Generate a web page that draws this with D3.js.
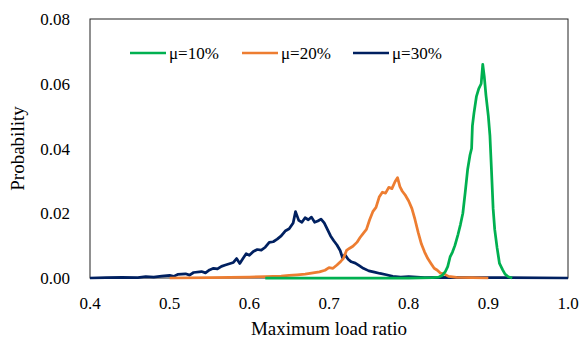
<!DOCTYPE html>
<html>
<head>
<meta charset="utf-8">
<script src="https://cdn.jsdelivr.net/npm/d3@7"></script>
<style>
  body { margin: 0; background: #fff; }
</style>
</head>
<body>
<svg></svg>
<script>
var width = 579, height = 341;
var margin = { left: 90, right: 11, top: 19, bottom: 63 };
var serif = "'Liberation Serif', 'Times New Roman', Times, serif";

// series: [load ratio, probability]
var mu10 = [[0.620,0],[0.700,0],[0.800,0],[0.830,0.0001],[0.838,0.0003],[0.842,0.0008],[0.846,0.0020],
  [0.849,0.0035],[0.852,0.0065],[0.855,0.0080],[0.858,0.0100],[0.862,0.0135],[0.865,0.0165],[0.868,0.0200],
  [0.871,0.0265],[0.874,0.0335],[0.877,0.0380],[0.879,0.0400],[0.880,0.0470],[0.882,0.0510],[0.885,0.0560],
  [0.888,0.0585],[0.891,0.0600],[0.893,0.0660],[0.895,0.0620],[0.897,0.0565],[0.900,0.0500],[0.902,0.0440],
  [0.904,0.0330],[0.906,0.0215],[0.908,0.0150],[0.911,0.0093],[0.914,0.0045],[0.918,0.0025],[0.921,0.0012],
  [0.925,0.0004],[0.930,0]];
var mu20 = [[0.500,0],[0.550,0.0001],[0.600,0.0003],[0.620,0.0004],[0.640,0.0006],[0.650,0.0008],[0.660,0.0010],
  [0.670,0.0012],[0.680,0.0016],[0.688,0.0019],[0.695,0.0024],[0.700,0.0032],[0.705,0.0030],[0.710,0.0040],
  [0.715,0.0052],[0.718,0.0060],[0.722,0.0085],[0.726,0.0092],[0.730,0.0098],[0.735,0.0110],[0.739,0.0125],
  [0.743,0.0138],[0.747,0.0150],[0.751,0.0180],[0.755,0.0205],[0.759,0.0218],[0.763,0.0250],[0.767,0.0265],
  [0.771,0.0262],[0.775,0.0280],[0.779,0.0276],[0.783,0.0298],[0.786,0.0310],[0.789,0.0282],[0.792,0.0268],
  [0.796,0.0255],[0.800,0.0238],[0.804,0.0215],[0.808,0.0180],[0.812,0.0140],[0.816,0.0105],[0.820,0.0080],
  [0.824,0.0060],[0.828,0.0045],[0.832,0.0030],[0.836,0.0024],[0.840,0.0015],[0.845,0.0012],[0.850,0.0005],
  [0.860,0.0002],[0.880,0.0001],[0.900,0]];
var mu30 = [[0.400,0],[0.420,0.0001],[0.440,0.0002],[0.460,0.0001],[0.470,0.0004],[0.480,0.0003],[0.490,0.0006],
  [0.500,0.0008],[0.505,0.0005],[0.510,0.0011],[0.520,0.0013],[0.525,0.0009],[0.530,0.0017],[0.540,0.0020],
  [0.545,0.0016],[0.550,0.0025],[0.555,0.0030],[0.560,0.0028],[0.565,0.0036],[0.570,0.0040],[0.575,0.0044],
  [0.580,0.0048],[0.584,0.0060],[0.588,0.0045],[0.592,0.0060],[0.596,0.0075],[0.600,0.0070],[0.605,0.0082],
  [0.610,0.0088],[0.615,0.0086],[0.620,0.0095],[0.625,0.0110],[0.630,0.0112],[0.635,0.0120],[0.640,0.0130],
  [0.645,0.0145],[0.650,0.0152],[0.655,0.0170],[0.658,0.0205],[0.662,0.0178],[0.666,0.0172],[0.670,0.0186],
  [0.674,0.0180],[0.678,0.0188],[0.682,0.0172],[0.686,0.0176],[0.690,0.0182],[0.694,0.0170],[0.698,0.0150],
  [0.702,0.0130],[0.706,0.0115],[0.710,0.0102],[0.714,0.0085],[0.717,0.0062],[0.720,0.0072],[0.724,0.0058],
  [0.728,0.0050],[0.733,0.0046],[0.738,0.0038],[0.743,0.0030],[0.750,0.0022],[0.757,0.0018],[0.764,0.0014],
  [0.772,0.0010],[0.780,0.0005],[0.790,0.0003],[0.800,0.0004],[0.820,0.0001],[0.850,0.0002],[0.880,0.0001],
  [0.920,0.0001],[1.000,0]];

var seriesNames = ["μ=10%", "μ=20%", "μ=30%"];
var seriesColors = ["#00b050", "#ed7d31", "#002060"];
var xTicks = [0.4, 0.5, 0.6, 0.7, 0.8, 0.9, 1.0];
var yTicks = [0, 0.02, 0.04, 0.06, 0.08];

var svg = d3.select("svg").attr("width", width).attr("height", height)
  .attr("font-family", serif);

var x = d3.scaleLinear().domain([0.4, 1.0]).range([margin.left, width - margin.right]);
var y = d3.scaleLinear().domain([0, 0.08]).range([height - margin.bottom, margin.top]);

// frame
svg.append("rect")
  .attr("x", x(0.4)).attr("y", y(0.08))
  .attr("width", x(1.0) - x(0.4)).attr("height", y(0) - y(0.08))
  .attr("fill", "none").attr("stroke", "#222").attr("stroke-width", 1);

// tick labels
svg.selectAll(".xt").data(xTicks).enter().append("text")
  .attr("x", d => x(d)).attr("y", 309)
  .attr("text-anchor", "middle")
  .style("font-family", serif).style("font-size", "17px")
  .text(d => d.toFixed(1));
svg.selectAll(".yt").data(yTicks).enter().append("text")
  .attr("x", 70).attr("y", d => y(d) + 6)
  .attr("text-anchor", "end")
  .style("font-family", serif).style("font-size", "17px")
  .text(d => d.toFixed(2));

// axis titles
svg.append("text").attr("x", x(0.7)).attr("y", 335)
  .attr("text-anchor", "middle")
  .style("font-family", serif).style("font-size", "19px")
  .text("Maximum load ratio");
svg.append("text").attr("transform", "translate(24," + y(0.04) + ") rotate(-90)")
  .attr("text-anchor", "middle")
  .style("font-family", serif).style("font-size", "19px")
  .text("Probability");

// lines: draw navy first, green last
var line = d3.line().x(d => x(d[0])).y(d => y(d[1]));
var allSeries = [mu10, mu20, mu30];
[2, 1, 0].forEach(function (i) {
  svg.append("path")
    .datum(allSeries[i])
    .attr("d", line)
    .attr("fill", "none")
    .attr("stroke", seriesColors[i])
    .attr("stroke-width", 2.75)
    .attr("stroke-linejoin", "round");
});

// legend
var legendX = [130, 242, 353];
seriesNames.forEach(function (name, i) {
  svg.append("line")
    .attr("x1", legendX[i]).attr("x2", legendX[i] + 36)
    .attr("y1", 53).attr("y2", 53)
    .attr("stroke", seriesColors[i]).attr("stroke-width", 2.5);
  svg.append("text")
    .attr("x", legendX[i] + 39).attr("y", 59)
    .style("font-family", serif).style("font-size", "17px")
    .text(name);
});
</script>
</body>
</html>
